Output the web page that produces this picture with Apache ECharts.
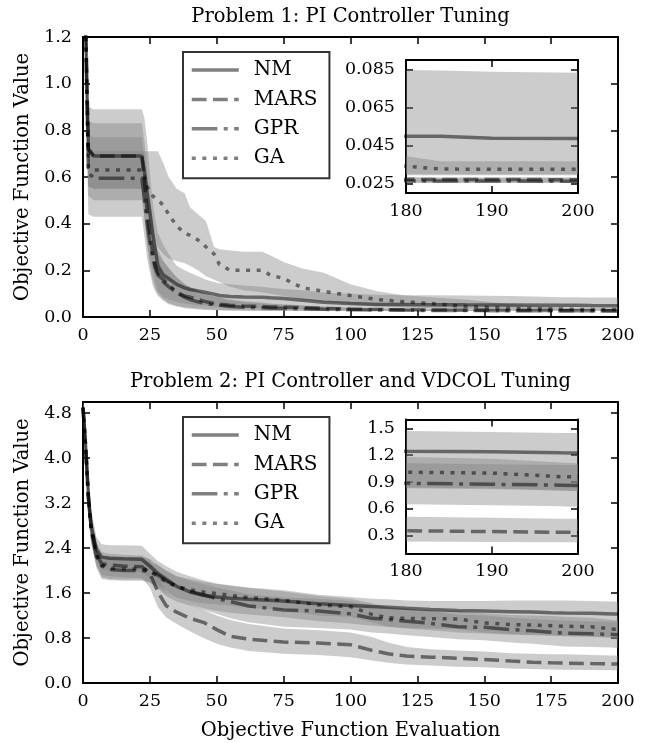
<!DOCTYPE html>
<html>
<head>
<meta charset="utf-8">
<script src="https://cdn.jsdelivr.net/npm/echarts@6/dist/echarts.min.js"></script>
<style>
  html, body { margin: 0; padding: 0; background: #fff; }
  #chart { width: 652px; height: 743px; }
</style>
</head>
<body>
<div id="chart"></div>
<script>
// Problem 1: PI controller tuning
const evals1 = [0, 1, 2, 4, 22, 23, 24, 25, 26, 27, 28, 30, 32, 35, 38, 40, 43, 46, 49, 51, 55, 60, 67, 70, 75, 82, 90, 100, 110, 120, 130, 143, 160, 180, 184, 190, 200];
const nmMean1 = [2.2, 1.25, 0.72, 0.69, 0.69, 0.62, 0.53, 0.45, 0.36, 0.29, 0.22, 0.18, 0.165, 0.14, 0.125, 0.118, 0.112, 0.105, 0.098, 0.092, 0.088, 0.086, 0.085, 0.082, 0.079, 0.072, 0.063, 0.058, 0.054, 0.054, 0.053, 0.052, 0.051, 0.0499, 0.0499, 0.0488, 0.0487];
const nmLow1 = [1.7, 1.0, 0.52, 0.50, 0.50, 0.42, 0.32, 0.25, 0.2, 0.15, 0.11, 0.085, 0.075, 0.065, 0.058, 0.055, 0.05, 0.048, 0.045, 0.043, 0.04, 0.038, 0.037, 0.036, 0.035, 0.034, 0.033, 0.032, 0.031, 0.031, 0.030, 0.030, 0.0295, 0.0293, 0.0293, 0.0293, 0.0293];
const nmHigh1 = [2.6, 1.5, 0.9, 0.89, 0.89, 0.85, 0.75, 0.62, 0.5, 0.42, 0.36, 0.31, 0.27, 0.22, 0.2, 0.19, 0.175, 0.16, 0.15, 0.145, 0.14, 0.135, 0.13, 0.125, 0.12, 0.115, 0.105, 0.1, 0.095, 0.093, 0.093, 0.092, 0.09, 0.0847, 0.0845, 0.0838, 0.0833];
const marsMean1 = [2.2, 1.25, 0.72, 0.69, 0.69, 0.58, 0.45, 0.35, 0.28, 0.22, 0.19, 0.15, 0.13, 0.105, 0.09, 0.085, 0.075, 0.065, 0.058, 0.055, 0.05, 0.047, 0.045, 0.043, 0.042, 0.04, 0.037, 0.034, 0.032, 0.031, 0.030, 0.029, 0.028, 0.0272, 0.0271, 0.0271, 0.027];
const marsLow1 = [1.7, 1.0, 0.56, 0.55, 0.55, 0.42, 0.3, 0.22, 0.16, 0.12, 0.1, 0.075, 0.06, 0.048, 0.042, 0.04, 0.036, 0.033, 0.031, 0.03, 0.029, 0.028, 0.0275, 0.027, 0.027, 0.0265, 0.0262, 0.026, 0.0258, 0.0257, 0.0256, 0.0256, 0.0255, 0.0255, 0.0255, 0.0255, 0.0255];
const marsHigh1 = [2.6, 1.5, 0.84, 0.83, 0.83, 0.75, 0.62, 0.5, 0.42, 0.34, 0.29, 0.24, 0.21, 0.17, 0.14, 0.13, 0.115, 0.1, 0.09, 0.085, 0.075, 0.068, 0.062, 0.058, 0.055, 0.05, 0.045, 0.04, 0.036, 0.034, 0.032, 0.031, 0.03, 0.0284, 0.0283, 0.0283, 0.0283];
const gprMean1 = [2.2, 1.2, 0.62, 0.595, 0.595, 0.5, 0.4, 0.32, 0.26, 0.21, 0.18, 0.16, 0.14, 0.105, 0.085, 0.075, 0.065, 0.058, 0.052, 0.05, 0.045, 0.042, 0.04, 0.038, 0.037, 0.035, 0.033, 0.031, 0.03, 0.029, 0.028, 0.028, 0.027, 0.0264, 0.0263, 0.0263, 0.0262];
const gprLow1 = [1.7, 0.95, 0.44, 0.43, 0.43, 0.34, 0.25, 0.19, 0.14, 0.11, 0.09, 0.07, 0.055, 0.045, 0.038, 0.035, 0.032, 0.03, 0.029, 0.028, 0.027, 0.0265, 0.026, 0.026, 0.0258, 0.0256, 0.0255, 0.0254, 0.0253, 0.0253, 0.0252, 0.0252, 0.0252, 0.0252, 0.0252, 0.0252, 0.0252];
const gprHigh1 = [2.6, 1.45, 0.78, 0.77, 0.77, 0.68, 0.55, 0.45, 0.38, 0.31, 0.27, 0.24, 0.21, 0.17, 0.14, 0.125, 0.11, 0.098, 0.088, 0.082, 0.072, 0.065, 0.058, 0.055, 0.052, 0.048, 0.043, 0.038, 0.035, 0.033, 0.031, 0.03, 0.029, 0.0278, 0.0278, 0.0278, 0.0278];
const gaMean1 = [2.2, 1.25, 0.64, 0.63, 0.63, 0.6, 0.56, 0.53, 0.52, 0.51, 0.50, 0.48, 0.44, 0.39, 0.36, 0.35, 0.33, 0.30, 0.27, 0.225, 0.20, 0.20, 0.20, 0.18, 0.165, 0.125, 0.11, 0.092, 0.075, 0.065, 0.058, 0.045, 0.037, 0.0341, 0.0326, 0.0325, 0.0325];
const gaLow1 = [1.7, 1.0, 0.56, 0.55, 0.55, 0.5, 0.45, 0.4, 0.36, 0.33, 0.3, 0.27, 0.25, 0.24, 0.23, 0.22, 0.2, 0.175, 0.16, 0.15, 0.13, 0.115, 0.105, 0.1, 0.09, 0.075, 0.065, 0.055, 0.047, 0.042, 0.038, 0.034, 0.031, 0.0299, 0.0299, 0.0299, 0.0299];
const gaHigh1 = [2.6, 1.5, 0.72, 0.71, 0.71, 0.71, 0.71, 0.71, 0.71, 0.71, 0.71, 0.66, 0.6, 0.55, 0.53, 0.47, 0.44, 0.41, 0.3, 0.29, 0.285, 0.28, 0.28, 0.265, 0.236, 0.208, 0.19, 0.14, 0.11, 0.093, 0.085, 0.075, 0.055, 0.0394, 0.0367, 0.0367, 0.0367];

// Problem 2: PI controller and VDCOL tuning
const evals2 = [0, 1, 2, 3, 5, 7, 10, 15, 22, 25, 28, 31, 35, 40, 45, 50, 55, 62, 75, 88, 100, 108, 114, 121, 130, 140, 150, 160, 168, 175, 180, 190, 198, 200];
const nmMean2 = [4.9, 4.2, 3.37, 2.8, 2.38, 2.24, 2.22, 2.21, 2.2, 2.08, 1.95, 1.85, 1.72, 1.62, 1.56, 1.53, 1.51, 1.49, 1.46, 1.41, 1.38, 1.36, 1.35, 1.33, 1.31, 1.29, 1.28, 1.27, 1.262, 1.25, 1.245, 1.24, 1.228, 1.226];
const nmLow2 = [4.7, 3.9, 3.15, 2.6, 2.2, 2.03, 2.0, 2.0, 1.98, 1.86, 1.75, 1.65, 1.5, 1.4, 1.33, 1.28, 1.25, 1.22, 1.17, 1.1, 1.06, 1.02, 1.0, 0.97, 0.94, 0.9, 0.88, 0.86, 0.85, 0.84, 0.83, 0.82, 0.81, 0.8];
const nmHigh2 = [5.1, 4.6, 3.7, 3.1, 2.6, 2.47, 2.45, 2.45, 2.44, 2.3, 2.17, 2.08, 1.98, 1.9, 1.83, 1.77, 1.74, 1.7, 1.65, 1.57, 1.53, 1.5, 1.49, 1.47, 1.46, 1.46, 1.46, 1.47, 1.47, 1.47, 1.47, 1.46, 1.45, 1.45];
const marsMean2 = [4.9, 4.2, 3.3, 2.8, 2.3, 2.12, 2.1, 2.08, 2.07, 1.95, 1.62, 1.38, 1.26, 1.15, 1.08, 0.95, 0.83, 0.78, 0.73, 0.71, 0.68, 0.58, 0.52, 0.48, 0.46, 0.44, 0.42, 0.39, 0.37, 0.36, 0.355, 0.345, 0.338, 0.336];
const marsLow2 = [4.6, 3.9, 3.0, 2.55, 2.1, 1.92, 1.9, 1.88, 1.87, 1.7, 1.35, 1.17, 1.05, 0.92, 0.8, 0.7, 0.63, 0.57, 0.52, 0.5, 0.46, 0.4, 0.36, 0.33, 0.31, 0.29, 0.28, 0.26, 0.25, 0.24, 0.235, 0.23, 0.225, 0.225];
const marsHigh2 = [5.0, 4.5, 3.6, 3.05, 2.5, 2.33, 2.3, 2.28, 2.27, 2.2, 1.9, 1.62, 1.5, 1.4, 1.3, 1.2, 1.12, 1.05, 0.97, 0.94, 0.9, 0.82, 0.72, 0.64, 0.6, 0.58, 0.56, 0.53, 0.52, 0.51, 0.51, 0.5, 0.49, 0.49];
const gprMean2 = [4.9, 4.2, 3.3, 2.75, 2.25, 2.08, 2.02, 2.0, 2.0, 1.98, 1.92, 1.82, 1.72, 1.63, 1.57, 1.5, 1.45, 1.37, 1.3, 1.28, 1.23, 1.15, 1.13, 1.1, 1.06, 1.0, 0.99, 0.95, 0.93, 0.905, 0.885, 0.875, 0.865, 0.86];
const gprLow2 = [4.6, 3.9, 3.0, 2.5, 2.05, 1.85, 1.83, 1.82, 1.82, 1.78, 1.68, 1.55, 1.45, 1.38, 1.3, 1.23, 1.15, 1.08, 1.0, 0.98, 0.95, 0.9, 0.88, 0.85, 0.82, 0.78, 0.76, 0.72, 0.7, 0.67, 0.65, 0.64, 0.63, 0.62];
const gprHigh2 = [5.0, 4.5, 3.6, 3.0, 2.4, 2.22, 2.2, 2.18, 2.18, 2.15, 2.1, 2.0, 1.9, 1.82, 1.76, 1.7, 1.65, 1.58, 1.52, 1.5, 1.46, 1.38, 1.35, 1.32, 1.28, 1.22, 1.2, 1.16, 1.14, 1.12, 1.11, 1.1, 1.09, 1.09];
const gaMean2 = [4.9, 4.2, 3.3, 2.75, 2.3, 2.1, 2.04, 2.03, 2.03, 2.0, 1.9, 1.8, 1.72, 1.66, 1.62, 1.59, 1.56, 1.52, 1.47, 1.39, 1.36, 1.22, 1.16, 1.15, 1.145, 1.14, 1.07, 1.04, 1.03, 1.02, 1.01, 1.0, 0.96, 0.957];
const gaLow2 = [4.6, 3.9, 3.0, 2.5, 2.1, 1.88, 1.85, 1.84, 1.84, 1.8, 1.7, 1.6, 1.52, 1.46, 1.42, 1.4, 1.38, 1.34, 1.3, 1.2, 1.18, 1.08, 1.0, 0.98, 0.97, 0.96, 0.9, 0.87, 0.86, 0.85, 0.84, 0.83, 0.8, 0.8];
const gaHigh2 = [5.0, 4.5, 3.6, 3.0, 2.45, 2.27, 2.25, 2.24, 2.24, 2.2, 2.1, 2.0, 1.9, 1.85, 1.8, 1.76, 1.73, 1.69, 1.63, 1.55, 1.5, 1.42, 1.35, 1.32, 1.3, 1.28, 1.24, 1.21, 1.2, 1.19, 1.18, 1.16, 1.12, 1.11];

const methods = ['NM', 'MARS', 'GPR', 'GA'];
const xTicksMain = [0, 25, 50, 75, 100, 125, 150, 175, 200];
const yTicks1 = [0, 0.2, 0.4, 0.6, 0.8, 1.0, 1.2];
const yTicks2 = [0, 0.8, 1.6, 2.4, 3.2, 4.0, 4.8];
const yTicksInset1 = [0.025, 0.045, 0.065, 0.085];
const yTicksInset2 = [0.3, 0.6, 0.9, 1.2, 1.5];

const problem1 = {
  NM: [nmMean1, nmLow1, nmHigh1], MARS: [marsMean1, marsLow1, marsHigh1],
  GPR: [gprMean1, gprLow1, gprHigh1], GA: [gaMean1, gaLow1, gaHigh1]
};
const problem2 = {
  NM: [nmMean2, nmLow2, nmHigh2], MARS: [marsMean2, marsLow2, marsHigh2],
  GPR: [gprMean2, gprLow2, gprHigh2], GA: [gaMean2, gaLow2, gaHigh2]
};

const serif = 'DejaVu Serif';
const lineColor = 'rgba(0,0,0,0.5)';
const bandColor = 'rgba(128,128,128,0.4)';
const dashes = {NM: 'solid', MARS: [14.8, 6.4], GPR: [25.6, 6.4, 4, 6.4], GA: [4, 6.6]};

const axLine = {onZero: false, lineStyle: {color: '#000', width: 2}};
const nameStyle = {fontFamily: serif, fontSize: 19.5, color: '#000'};

function tick(values) {
  return {inside: true, length: 7, customValues: values, lineStyle: {color: '#000', width: 1.5}};
}

function xPair(grid, min, max, values, title, name) {
  const base = {gridIndex: grid, type: 'value', min, max, axisLine: axLine, splitLine: {show: false}, axisTick: tick(values)};
  return [
    Object.assign({}, base, {
      position: 'bottom',
      axisLabel: {margin: 9, customValues: values, fontFamily: serif, fontSize: 17.5, color: '#000'},
      name: name || '', nameLocation: 'middle', nameGap: 38, nameTextStyle: nameStyle
    }),
    Object.assign({}, base, {
      position: 'top', axisLabel: {show: false},
      name: title || '', nameLocation: 'middle', nameGap: 10, nameTextStyle: nameStyle
    })
  ];
}

function yPair(grid, min, max, values, digits, name) {
  const base = {gridIndex: grid, type: 'value', min, max, axisLine: axLine, splitLine: {show: false}, axisTick: tick(values)};
  return [
    Object.assign({}, base, {
      position: 'left',
      axisLabel: {margin: 11, customValues: values, formatter: v => v.toFixed(digits), fontFamily: serif, fontSize: 17.5, color: '#000'},
      name: name || '', nameLocation: 'middle', nameGap: 49, nameRotate: 90, nameTextStyle: nameStyle
    }),
    Object.assign({}, base, {position: 'right', axisLabel: {show: false}})
  ];
}

function band(x, lo, hi, axis) {
  const rows = x.map((v, i) => [v, lo[i], hi[i]]);
  return {
    type: 'custom', xAxisIndex: axis, yAxisIndex: axis, silent: true, z: 2,
    encode: {x: 0, y: [1, 2]},
    data: rows,
    renderItem: (params, api) => {
      if (params.dataIndex !== 0) return null;
      const top = rows.map(r => api.coord([r[0], r[2]]));
      const bottom = rows.map(r => api.coord([r[0], r[1]])).reverse();
      const cs = params.coordSys;
      return {
        type: 'polygon',
        shape: {points: top.concat(bottom)},
        style: {fill: bandColor},
        clipPath: {type: 'rect', shape: {x: cs.x, y: cs.y, width: cs.width, height: cs.height}}
      };
    }
  };
}

function line(name, x, y, axis) {
  return {
    name, type: 'line', xAxisIndex: axis, yAxisIndex: axis, z: 3,
    symbol: 'none', silent: true,
    data: x.map((v, i) => [v, y[i]]),
    lineStyle: {color: lineColor, width: 3.5, type: dashes[name], cap: 'butt'},
    itemStyle: {color: lineColor}
  };
}

function seriesFor(problem, x, axes) {
  const out = [];
  axes.forEach(ax => {
    methods.forEach(m => out.push(band(x, problem[m][1], problem[m][2], ax)));
    methods.forEach(m => out.push(line(m, x, problem[m][0], ax)));
  });
  return out;
}

function legend(top) {
  return {
    orient: 'vertical', left: 183, top, data: methods, selectedMode: false,
    itemWidth: 47, itemHeight: 14, itemGap: 9.4,
    padding: [8, 12, 10, 7],
    borderColor: '#333', borderWidth: 2, backgroundColor: '#fff',
    itemStyle: {opacity: 0},
    lineStyle: {width: 3.5},
    textStyle: {fontFamily: serif, fontSize: 20, color: '#000', lineHeight: 20, padding: [0, 0, 0, 10]}
  };
}

const chart = echarts.init(document.getElementById('chart'));
chart.setOption({
  animation: false,
  backgroundColor: '#fff',
  grid: [
    {left: 83, top: 37, width: 535, height: 280},
    {left: 406, top: 60, width: 172, height: 133, show: true, backgroundColor: '#fff', borderWidth: 0},
    {left: 83, top: 402, width: 535, height: 281},
    {left: 406, top: 419.5, width: 172, height: 134, show: true, backgroundColor: '#fff', borderWidth: 0}
  ],
  xAxis: [
    ...xPair(0, 0, 200, xTicksMain, 'Problem 1: PI Controller Tuning'),
    ...xPair(1, 180, 200, [180, 190, 200]),
    ...xPair(2, 0, 200, xTicksMain, 'Problem 2: PI Controller and VDCOL Tuning', 'Objective Function Evaluation'),
    ...xPair(3, 180, 200, [180, 190, 200])
  ],
  yAxis: [
    ...yPair(0, 0, 1.2, yTicks1, 1, 'Objective Function Value'),
    ...yPair(1, 0.02, 0.09, yTicksInset1, 3),
    ...yPair(2, 0, 5, yTicks2, 1, 'Objective Function Value'),
    ...yPair(3, 0.1, 1.6, yTicksInset2, 1)
  ],
  legend: [legend(52), legend(417)],
  series: [
    ...seriesFor(problem1, evals1, [0, 2]),
    ...seriesFor(problem2, evals2, [4, 6])
  ]
});
</script>
</body>
</html>
